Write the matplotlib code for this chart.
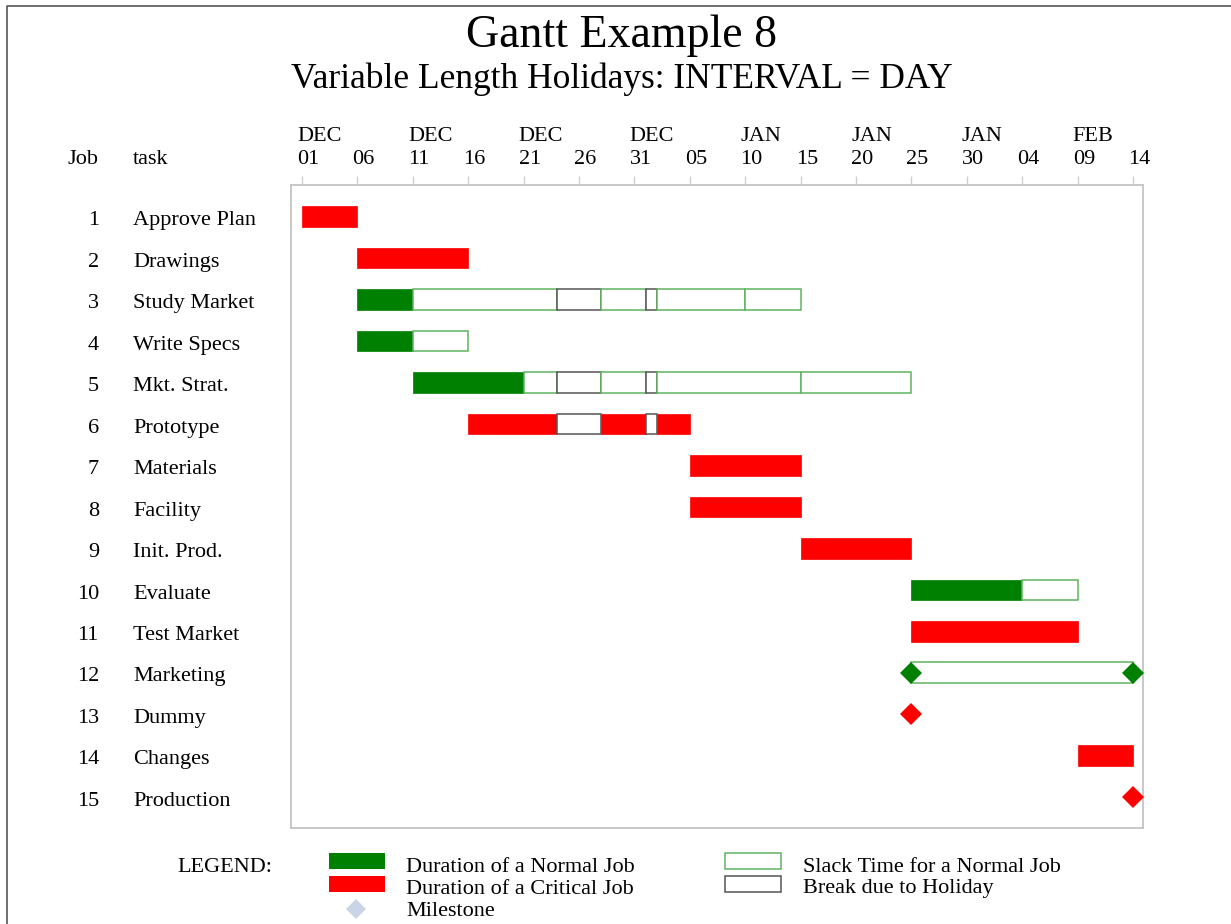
"""Gantt chart with variable length holidays (INTERVAL = DAY)."""

import matplotlib

matplotlib.use("Agg")
import matplotlib.pyplot as plt
import pandas as pd
from matplotlib.patches import Polygon, Rectangle

plt.rcParams["font.family"] = ["Liberation Serif", "DejaVu Serif"]

GREEN = "#008000"
RED = "#ff0000"
SLACK_EDGE = "#5fb35f"
HOLIDAY_EDGE = "#555555"
FRAME = "#c4c4c4"

# ---- data -------------------------------------------------------------
project_start = pd.Timestamp("2003-12-01")
project_end = pd.Timestamp("2004-02-14")

jobs = list(range(1, 16))
tasks = [
    "Approve Plan", "Drawings", "Study Market", "Write Specs", "Mkt. Strat.",
    "Prototype", "Materials", "Facility", "Init. Prod.", "Evaluate",
    "Test Market", "Marketing", "Dummy", "Changes", "Production",
]
early_start = [
    "2003-12-01", "2003-12-06", "2003-12-06", "2003-12-06", "2003-12-11",
    "2003-12-16", "2004-01-05", "2004-01-05", "2004-01-15", "2004-01-25",
    "2004-01-25", "2004-01-25", "2004-01-25", "2004-02-09", "2004-02-14",
]
early_finish = [
    "2003-12-06", "2003-12-16", "2003-12-11", "2003-12-11", "2003-12-21",
    "2004-01-05", "2004-01-15", "2004-01-15", "2004-01-25", "2004-02-04",
    "2004-02-09", "2004-01-25", "2004-01-25", "2004-02-14", "2004-02-14",
]
late_finish = [
    None, None, "2004-01-15", "2003-12-16", "2004-01-25",
    None, None, None, None, "2004-02-09",
    None, "2004-02-14", None, None, None,
]
critical = [True, True, False, False, False, True, True, True, True, False,
            True, False, True, True, True]
milestone = [False] * 11 + [True, True, False, True]

holiday_start = ["2003-12-24", "2004-01-01"]
holiday_end = ["2003-12-28", "2004-01-02"]

# extra segment breaks drawn inside the slack bars
slack_breaks = {3: ["2004-01-10"], 5: ["2004-01-15"]}

tick_dates = pd.date_range(project_start, project_end, freq="5D")


def day(d):
    return (pd.Timestamp(d) - project_start).days


holidays = [(day(a), day(b)) for a, b in zip(holiday_start, holiday_end)]


def pieces(a, b, extra=()):
    edges = {a, b}
    for hs, he in holidays:
        for e in (hs, he):
            if a < e < b:
                edges.add(e)
    for e in extra:
        if a < e < b:
            edges.add(e)
    edges = sorted(edges)
    out = []
    for lo, hi in zip(edges[:-1], edges[1:]):
        is_hol = any(hs <= lo and hi <= he for hs, he in holidays)
        out.append((lo, hi, is_hol))
    return out


# ---- figure -------------------------------------------------------------
fig = plt.figure(figsize=(12.31, 9.24), dpi=100)

# overlay in pixel coordinates for titles, legend and page border
lay = fig.add_axes([0, 0, 1, 1])
lay.set_xlim(0, 1231)
lay.set_ylim(924, 0)
lay.axis("off")

ax = fig.add_axes([291 / 1231, 96 / 924, 852 / 1231, 643 / 924])
ax.set_xlim(-1, 75.9)
ax.set_ylim(15.74, 0.24)
for s in ax.spines.values():
    s.set_color(FRAME)
    s.set_linewidth(1.3)
ax.set_yticks([])
ax.xaxis.tick_top()
ax.set_xticks([day(d) for d in tick_dates])
ax.tick_params(axis="x", length=6.5, width=1, color="#cfcfcf", labeltop=False,
               labelbottom=False)

bar_h = 0.5
ms = 11.3
for i, (job, task) in enumerate(zip(jobs, tasks)):
    y = job
    a, b = day(early_start[i]), day(early_finish[i])
    color = RED if critical[i] else GREEN

    if not milestone[i]:
        for lo, hi, is_hol in pieces(a, b):
            if is_hol:
                ax.barh(y, hi - lo, left=lo, height=bar_h, color="white",
                        edgecolor=HOLIDAY_EDGE, linewidth=1.1, zorder=3)
            else:
                ax.barh(y, hi - lo, left=lo, height=bar_h, color=color,
                        edgecolor=color, linewidth=0.5, zorder=2)

    if late_finish[i] is not None:
        c = day(late_finish[i])
        extra = [day(e) for e in slack_breaks.get(job, [])]
        for lo, hi, is_hol in pieces(b, c, extra):
            ax.barh(y, hi - lo, left=lo, height=bar_h, color="white",
                    edgecolor=HOLIDAY_EDGE if is_hol else SLACK_EDGE,
                    linewidth=1.1, zorder=2)
        if milestone[i]:
            ax.plot([c], [y], marker="D", ms=ms, color=color, mew=0,
                    zorder=4, clip_on=False)

    if milestone[i]:
        ax.plot([a], [y], marker="D", ms=ms, color=color, mew=0,
                zorder=4, clip_on=False)

    # labels sit slightly below the bar centre, as in the original
    ax.text(-0.2254, y + 0.1, str(job), transform=ax.get_yaxis_transform(),
            ha="right", va="center", fontsize=16)
    ax.text(-0.1854, y + 0.1, task, transform=ax.get_yaxis_transform(),
            ha="left", va="center", fontsize=16)

# time axis labels
xt = ax.get_xaxis_transform()
for k, d in enumerate(tick_dates):
    x = day(d) - 0.45
    ax.text(x, 1.039, d.strftime("%d"), transform=xt, ha="left",
            va="center", fontsize=16)
    if k % 2 == 0:
        ax.text(x, 1.075, d.strftime("%b").upper(), transform=xt,
                ha="left", va="center", fontsize=16)

lay.text(99, 160, "Job", ha="right", va="center", fontsize=16)
lay.text(133, 160, "task", ha="left", va="center", fontsize=16)

lay.text(622, 36, "Gantt Example 8", ha="center", va="center", fontsize=33)
lay.text(622, 79, "Variable Length Holidays: INTERVAL = DAY", ha="center",
         va="center", fontsize=25.5)

# page border
lay.plot([7, 7, 1231], [924, 6, 6], color="#555555", lw=1.2)

# legend
lay.text(177, 867, "LEGEND:", ha="left", va="center", fontsize=16)
lay.add_patch(Rectangle((329, 853), 56, 16, facecolor=GREEN, edgecolor="none"))
lay.add_patch(Rectangle((329, 876), 56, 16, facecolor=RED, edgecolor="none"))
lay.add_patch(Polygon([(356, 899), (366, 909), (356, 919), (346, 909)],
                      closed=True, facecolor="#c9d5e6", edgecolor="none"))
lay.add_patch(Rectangle((725, 853), 56, 16, facecolor="white",
                        edgecolor=SLACK_EDGE, lw=1.1))
lay.add_patch(Rectangle((725, 876), 56, 16, facecolor="white",
                        edgecolor=HOLIDAY_EDGE, lw=1.1))
lay.text(406, 867, "Duration of a Normal Job", ha="left", va="center", fontsize=16)
lay.text(406, 889, "Duration of a Critical Job", ha="left", va="center", fontsize=16)
lay.text(406, 912, "Milestone", ha="left", va="center", fontsize=16)
lay.text(803, 867, "Slack Time for a Normal Job", ha="left", va="center", fontsize=16)
lay.text(803, 889, "Break due to Holiday", ha="left", va="center", fontsize=16)

fig.savefig("out.png", dpi=100)
